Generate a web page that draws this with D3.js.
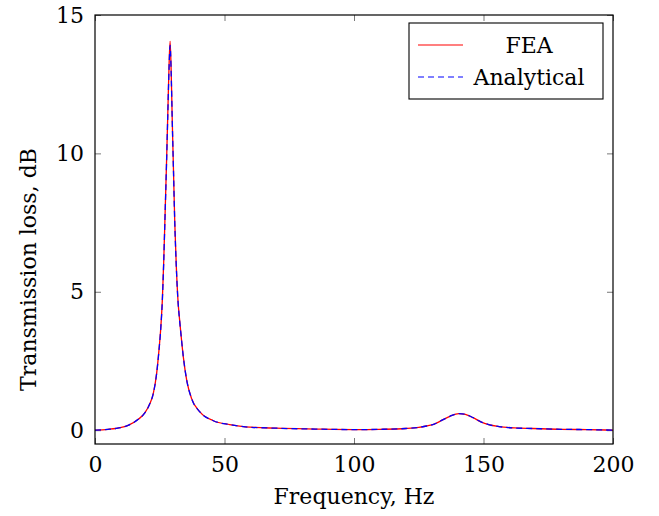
<!DOCTYPE html>
<html>
<head>
<meta charset="utf-8">
<script src="https://cdn.jsdelivr.net/npm/d3@7"></script>
<style>
body { margin: 0; background: #fff; }
text { font-family: "DejaVu Serif", "Liberation Serif", serif; }
</style>
</head>
<body>
<div id="chart"></div>
<script>
// frequency points, Hz
var freq = [0, 5, 8, 13, 16.7, 19.3, 21.2, 22.5, 23.8, 24.7, 25.4, 26.0, 26.5, 27.0, 27.6, 28.1, 28.6, 29.0,
	29.4, 29.8, 30.3, 30.8, 31.4, 32.1, 32.6, 33.1, 34.1, 35.4, 37.3, 40.5, 45.7, 52, 58, 70, 85, 100, 110, 120,
	125, 128, 131, 134, 137, 140.5, 143, 146, 149, 152, 156, 162, 169, 180, 190, 200];
var fea = [0, 0.03, 0.06, 0.18, 0.39, 0.63, 0.96, 1.32, 2.05, 2.89, 3.7, 4.7, 6.0, 7.6, 9.6, 11.4, 13.2, 14.05,
	13.0, 11.3, 9.4, 7.5, 5.9, 4.6, 4.05, 3.55, 2.65, 1.81, 1.14, 0.66, 0.34, 0.2, 0.12, 0.07, 0.04, 0.02, 0.03, 0.06,
	0.1, 0.15, 0.22, 0.36, 0.5, 0.6, 0.57, 0.45, 0.3, 0.2, 0.13, 0.08, 0.06, 0.03, 0.02, 0.0];
var analytical = [0, 0.03, 0.06, 0.18, 0.39, 0.63, 0.96, 1.32, 2.05, 2.88, 3.68, 4.68, 5.98, 7.58, 9.58, 11.38, 13.1, 13.9,
	12.95, 11.28, 9.38, 7.48, 5.88, 4.58, 4.03, 3.55, 2.65, 1.81, 1.14, 0.66, 0.34, 0.2, 0.12, 0.07, 0.04, 0.02, 0.03, 0.06,
	0.1, 0.15, 0.22, 0.36, 0.5, 0.6, 0.57, 0.45, 0.3, 0.2, 0.13, 0.08, 0.06, 0.03, 0.02, 0.0];
var xTicks = [0, 50, 100, 150, 200];
var yTicks = [0, 5, 10, 15];
var seriesNames = ["FEA", "Analytical"];

var width = 659, height = 516;
var mLeft = 95, mRight = 613, mTop = 15, mBottom = 444;
var fontSize = 22;

var svg = d3.select("#chart").append("svg")
	.attr("width", width)
	.attr("height", height);

var x = d3.scaleLinear().domain([0, 200]).range([mLeft, mRight]);
var y = d3.scaleLinear().domain([-0.5, 15]).range([mBottom, mTop]);

var tickLen = 6;
var axes = [
	d3.axisBottom(x).tickValues(xTicks).tickSizeInner(-tickLen).tickSizeOuter(0).tickPadding(12),
	d3.axisTop(x).tickValues(xTicks).tickSizeInner(-tickLen).tickSizeOuter(0).tickFormat(""),
	d3.axisLeft(y).tickValues(yTicks).tickSizeInner(-tickLen).tickSizeOuter(0).tickPadding(11),
	d3.axisRight(y).tickValues(yTicks).tickSizeInner(-tickLen).tickSizeOuter(0).tickFormat("")
];
var pos = [[0, mBottom], [0, mTop], [mLeft, 0], [mRight, 0]];
axes.forEach(function(ax, i){
	var g = svg.append("g").attr("transform", "translate(" + pos[i][0] + "," + pos[i][1] + ")").call(ax);
	g.select(".domain").remove();
	g.selectAll(".tick line").attr("stroke", "#555").attr("stroke-width", 0.8);
	g.selectAll(".tick text").attr("font-size", fontSize).attr("fill", "#000")
		.style("font-family", "'DejaVu Serif', serif");
});

var line = d3.line()
	.x(function(d){ return x(d[0]); })
	.y(function(d){ return y(d[1]); })
	.curve(d3.curveMonotoneX);

svg.append("path")
	.datum(freq.map(function(f, i){ return [f, fea[i]]; }))
	.attr("d", line)
	.attr("fill", "none")
	.attr("stroke", "#ff0000")
	.attr("stroke-width", 1.3);

svg.append("path")
	.datum(freq.map(function(f, i){ return [f, analytical[i]]; }))
	.attr("d", line)
	.attr("fill", "none")
	.attr("stroke", "#0000ff")
	.attr("stroke-width", 1.3)
	.attr("stroke-dasharray", "6,4");

svg.append("rect")
	.attr("x", mLeft).attr("y", mTop)
	.attr("width", mRight - mLeft).attr("height", mBottom - mTop)
	.attr("fill", "none").attr("stroke", "#000").attr("stroke-width", 1.2);

// legend
var lg = svg.append("g");
lg.append("rect")
	.attr("x", 409).attr("y", 23).attr("width", 194).attr("height", 76)
	.attr("fill", "#fff").attr("stroke", "#000").attr("stroke-width", 1.1);
var colors = ["#ff0000", "#0000ff"];
seriesNames.forEach(function(name, i){
	var ly = 45 + i * 32;
	lg.append("line")
		.attr("x1", 418).attr("x2", 463).attr("y1", ly).attr("y2", ly)
		.attr("stroke", colors[i]).attr("stroke-width", 1.1)
		.attr("stroke-dasharray", i == 1 ? "6,4" : null);
	lg.append("text")
		.attr("x", 529).attr("y", ly + 8)
		.attr("text-anchor", "middle")
		.attr("font-size", fontSize)
		.text(name);
});

svg.append("text")
	.attr("x", (mLeft + mRight) / 2).attr("y", 504)
	.attr("text-anchor", "middle")
	.attr("font-size", fontSize)
	.text("Frequency, Hz");

svg.append("text")
	.attr("transform", "translate(36," + ((mTop + mBottom) / 2 + 40) + ") rotate(-90)")
	.attr("text-anchor", "middle")
	.attr("font-size", fontSize)
	.text("Transmission loss, dB");
</script>
</body>
</html>
